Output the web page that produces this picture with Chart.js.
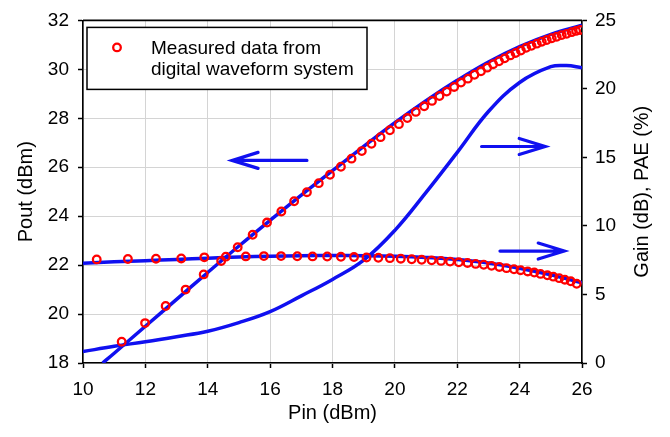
<!DOCTYPE html>
<html>
<head>
<meta charset="utf-8">
<script src="https://cdn.jsdelivr.net/npm/chart.js@4.4.1/dist/chart.umd.min.js"></script>
<style>
html,body{margin:0;padding:0;background:#fff;}
canvas{display:block;}
</style>
</head>
<body>
<canvas id="c" width="670" height="437"></canvas>
<script>
// ---- Data ----
// Measured Pout (red circles, left axis)
const measPoutPin = [11.24, 11.99, 12.65, 13.29, 13.87, 14.43, 14.96, 15.44, 15.90, 16.36, 16.77, 17.18, 17.56, 17.92, 18.27, 18.61, 18.94, 19.25, 19.54, 19.84, 20.13, 20.40, 20.67, 20.94, 21.19, 21.43, 21.66, 21.90, 22.12, 22.34, 22.55, 22.76, 22.96, 23.15, 23.34, 23.52, 23.70, 23.87, 24.04, 24.21, 24.38, 24.55, 24.71, 24.87, 25.03, 25.19, 25.35, 25.51, 25.67, 25.81, 25.94];
const measPout    = [18.87, 19.63, 20.33, 21.00, 21.62, 22.17, 22.73, 23.24, 23.74, 24.19, 24.61, 24.98, 25.35, 25.69, 26.02, 26.35, 26.66, 26.96, 27.23, 27.51, 27.76, 28.01, 28.26, 28.49, 28.71, 28.91, 29.09, 29.28, 29.46, 29.62, 29.78, 29.92, 30.07, 30.21, 30.33, 30.45, 30.57, 30.67, 30.77, 30.88, 30.96, 31.05, 31.13, 31.20, 31.27, 31.33, 31.40, 31.45, 31.52, 31.57, 31.61];
// Measured Gain (red circles, right axis)
const measGainPin = [10.44, 11.44, 12.34, 13.15, 13.89, 14.58, 15.22, 15.80, 16.35, 16.87, 17.36, 17.83, 18.27, 18.69, 19.09, 19.47, 19.84, 20.19, 20.54, 20.86, 21.18, 21.48, 21.77, 22.05, 22.33, 22.59, 22.85, 23.10, 23.35, 23.58, 23.82, 24.03, 24.26, 24.47, 24.67, 24.89, 25.08, 25.27, 25.45, 25.64, 25.83];
const measGain    = [7.56, 7.59, 7.61, 7.63, 7.71, 7.76, 7.78, 7.80, 7.80, 7.79, 7.78, 7.77, 7.75, 7.73, 7.70, 7.68, 7.65, 7.61, 7.57, 7.53, 7.49, 7.45, 7.40, 7.35, 7.30, 7.23, 7.17, 7.09, 7.01, 6.92, 6.84, 6.77, 6.68, 6.60, 6.50, 6.40, 6.30, 6.19, 6.08, 5.96, 5.78];
// Simulated Pout (blue line, left axis)
const simPoutPin = [10.63, 11, 12, 13, 14, 15, 16, 17, 18, 19, 20, 21, 22, 23, 24, 25, 26];
const simPout    = [18.0, 18.4, 19.5, 20.6, 21.7, 22.78, 23.83, 24.86, 25.86, 26.85, 27.82, 28.72, 29.55, 30.3, 30.93, 31.43, 31.8];
// Simulated Gain (blue line, right axis)
const simGainPin = [10, 11, 12, 13, 14, 15, 16, 17, 18, 19, 20, 21, 22, 23, 24, 25, 26];
const simGain    = [7.28, 7.38, 7.47, 7.56, 7.65, 7.73, 7.79, 7.83, 7.84, 7.83, 7.79, 7.70, 7.55, 7.30, 6.92, 6.43, 5.85];
// Simulated PAE (blue line, right axis)
const simPaePin = [10, 11, 12, 13, 14, 15, 16, 17, 18, 19, 20, 21, 22, 23, 24, 25, 25.5, 26];
const simPae    = [0.83, 1.22, 1.55, 1.92, 2.32, 2.95, 3.75, 4.9, 6.1, 7.5, 9.68, 12.45, 15.37, 18.35, 20.47, 21.62, 21.7, 21.55];
// Axis ticks
const xTicks = [10, 12, 14, 16, 18, 20, 22, 24, 26];
const yLeftTicks = [18, 20, 22, 24, 26, 28, 30, 32];
const yRightTicks = [0, 5, 10, 15, 20, 25];
// Texts
const legendLines = ['Measured data from', 'digital waveform system'];
const xTitle = 'Pin (dBm)';
const yLeftTitle = 'Pout (dBm)';
const yRightTitle = 'Gain (dB), PAE (%)';
// Arrows (data coordinates on given axis): [xFrom, xTo, yValue, axis]
const arrows = [
  [17.18, 14.78, 26.28, 'y'],
  [22.78, 24.82, 15.8, 'y1'],
  [23.37, 25.43, 8.17, 'y1']
];

const pts = (xs, ys) => xs.map((x, i) => ({x: x, y: ys[i]}));
const FONT = "'Liberation Sans', Arial, Helvetica, sans-serif";
const BLUE = '#1010f0';
const RED = '#ff0000';

const framePlugin = {
  id: 'frame',
  afterDatasetsDraw(chart) {
    const {ctx, chartArea: a, scales} = chart;
    ctx.save();
    // arrows
    ctx.strokeStyle = BLUE;
    ctx.lineWidth = 3.2;
    ctx.lineCap = 'round';
    arrows.forEach(([x0, x1, yv, ax]) => {
      const px0 = scales.x.getPixelForValue(x0);
      const px1 = scales.x.getPixelForValue(x1);
      const py = scales[ax].getPixelForValue(yv);
      const dir = Math.sign(px1 - px0);
      ctx.beginPath();
      ctx.moveTo(px0, py);
      ctx.lineTo(px1, py);
      ctx.moveTo(px1 - dir * 26, py - 8);
      ctx.lineTo(px1, py);
      ctx.lineTo(px1 - dir * 26, py + 8);
      ctx.stroke();
    });
    // top frame line
    ctx.strokeStyle = '#000';
    ctx.lineWidth = 1.6;
    ctx.lineCap = 'butt';
    ctx.beginPath();
    ctx.moveTo(a.left, a.top);
    ctx.lineTo(a.right, a.top);
    ctx.stroke();
    // legend box
    const bx = a.left + 4, by = a.top + 7, bw = 280, bh = 62;
    ctx.fillStyle = '#fff';
    ctx.fillRect(bx, by, bw, bh);
    ctx.strokeStyle = '#000';
    ctx.lineWidth = 1.5;
    ctx.strokeRect(bx, by, bw, bh);
    ctx.beginPath();
    ctx.strokeStyle = RED;
    ctx.lineWidth = 2.3;
    ctx.arc(bx + 30, by + 20, 3.8, 0, Math.PI * 2);
    ctx.stroke();
    ctx.fillStyle = '#000';
    ctx.font = '19px ' + FONT;
    ctx.textAlign = 'left';
    ctx.textBaseline = 'middle';
    ctx.fillText(legendLines[0], bx + 64, by + 21);
    ctx.fillText(legendLines[1], bx + 64, by + 42);
    // right axis title, reading bottom to top
    ctx.save();
    ctx.translate(scales.y1.right - 28, (a.top + a.bottom) / 2);
    ctx.rotate(-Math.PI / 2);
    ctx.font = '20px ' + FONT;
    ctx.textAlign = 'center';
    ctx.textBaseline = 'middle';
    ctx.fillText(yRightTitle, 0, 0);
    ctx.restore();
    ctx.restore();
  }
};

const tickFont = {family: FONT, size: 19};
const titleFont = {family: FONT, size: 20, lineHeight: 1.2};
const curve = {borderColor: BLUE, borderWidth: 3.5, pointRadius: 0, tension: 0.4, fill: false};
const marks = {showLine: false, pointRadius: 3.8, pointBorderWidth: 2.3, pointBorderColor: RED, pointBackgroundColor: 'rgba(0,0,0,0)', borderColor: RED};

new Chart(document.getElementById('c'), {
  type: 'line',
  data: {
    datasets: [
      Object.assign({data: pts(measPoutPin, measPout), yAxisID: 'y'}, marks),
      Object.assign({data: pts(measGainPin, measGain), yAxisID: 'y1'}, marks),
      Object.assign({data: pts(simPoutPin, simPout), yAxisID: 'y'}, curve),
      Object.assign({data: pts(simGainPin, simGain), yAxisID: 'y1'}, curve),
      Object.assign({data: pts(simPaePin, simPae), yAxisID: 'y1'}, curve)
    ]
  },
  options: {
    responsive: false,
    animation: false,
    devicePixelRatio: 1,
    layout: {padding: {top: 15, left: 0, right: 0, bottom: 0}},
    plugins: {legend: {display: false}, tooltip: {enabled: false}},
    scales: {
      x: {
        type: 'linear', min: 10, max: 26,
        afterBuildTicks: s => { s.ticks = xTicks.map(v => ({value: v})); },
        afterFit: s => { s.height = 74; },
        grid: {color: '#d4d4d4', lineWidth: 1, tickColor: '#000', tickLength: 5, tickWidth: 1.5},
        border: {color: '#000', width: 1.6},
        ticks: {font: tickFont, color: '#000', padding: 10, maxRotation: 0},
        title: {display: true, text: xTitle, font: titleFont, color: '#000', padding: {top: 0, bottom: 12}}
      },
      y: {
        type: 'linear', position: 'left', min: 18, max: 32,
        afterBuildTicks: s => { s.ticks = yLeftTicks.map(v => ({value: v})); },
        afterFit: s => { s.width = 83; },
        grid: {color: '#d4d4d4', lineWidth: 1, tickColor: '#000', tickLength: 5, tickWidth: 1.5},
        border: {color: '#000', width: 1.6},
        ticks: {font: tickFont, color: '#000', padding: 9},
        title: {display: true, text: yLeftTitle, font: titleFont, color: '#000', padding: {top: 14, bottom: 0}}
      },
      y1: {
        type: 'linear', position: 'right', min: 0, max: 25,
        afterBuildTicks: s => { s.ticks = yRightTicks.map(v => ({value: v})); },
        afterFit: s => { s.width = 88; },
        grid: {drawOnChartArea: false, tickColor: '#000', tickLength: 5, tickWidth: 1.5},
        border: {color: '#000', width: 1.6},
        ticks: {font: tickFont, color: '#000', padding: 8},
        title: {display: false}
      }
    }
  },
  plugins: [framePlugin]
});
</script>
</body>
</html>
